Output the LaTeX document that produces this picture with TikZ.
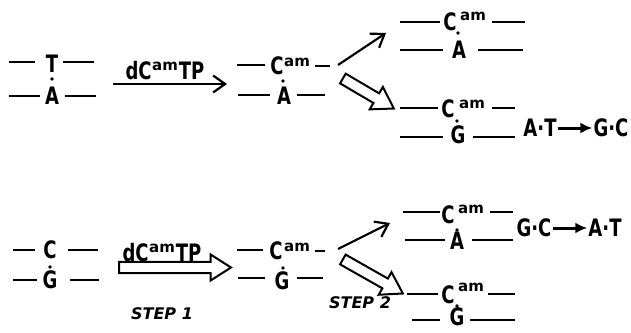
\documentclass[tikz,border=0pt]{standalone}
\usepackage{fontspec}
\setmainfont{DejaVu Sans}
\newfontfamily\basefont{DejaVu Sans}[FakeStretch=0.75]
\usetikzlibrary{arrows.meta,shapes.arrows,calc}
\begin{document}
\begin{tikzpicture}[x=1pt,y=-1pt,
  base/.style={font=\basefont\bfseries\fontsize{24}{24}\selectfont, inner sep=0pt, text height=17.5pt, text depth=0pt},
  supr/.style={font=\bfseries\fontsize{15}{15}\selectfont, inner sep=0pt, text height=8.4pt, text depth=0pt},
  steplab/.style={font=\bfseries\itshape\fontsize{16}{16}\selectfont, inner sep=0pt},
  strand/.style={line width=2.2pt},
  hb/.style={circle, fill, inner sep=0pt, minimum size=3.8pt},
  thinarrow/.style={line width=2.2pt, -{Straight Barb[length=12pt,width=17pt]}},
  fatarrow/.style={line width=3pt, -{Latex[length=12pt,width=11pt]}, shorten <=1pt, shorten >=1pt},
  harrow/.style={single arrow, draw, line width=2pt, inner xsep=0pt, inner ysep=4.6pt,
    single arrow head extend=7.4pt, single arrow tip angle=65, fill=white},
  hollow/.style={to path={let \p1=(\tikztostart), \p2=(\tikztotarget),
    \n1={veclen(\x2-\x1,\y2-\y1)} in
    (\tikztostart) -- (\tikztotarget) node[pos=0, sloped, harrow, anchor=tail, minimum height=\n1]{}}}
]
\useasboundingbox (0,0) rectangle (631,332);
\newcommand{\amsup}{\kern0.5pt\raisebox{9pt}{\normalfont\bfseries\fontsize{15}{15}\selectfont am}\kern1pt}

% ---------- Pair A (T.A) ----------
\node[base] (T1) at (52,64) {T};
\node[hb] (d1) at (52,79) {};
\node[base] (A1) at (52,96) {A};
\draw[strand] (T1.center) ++(-43,-2) -- ++(26,0);
\draw[strand] (T1.center) ++(11,-2) -- ++(31,0);
\draw[strand] (A1.center) ++(-43,0) -- ++(31,0);
\draw[strand] (A1.center) ++(13,0) -- ++(31,0);

% arrow 1
\coordinate (a1s) at (113,84);
\coordinate (a1e) at (227,84);
\draw[thinarrow] (a1s) -- (a1e);
\node[base] (lab1) at (165,71) {dC\amsup TP};

% ---------- Pair B (Cam.A) ----------
\node[base] (C2) at (277,66) {C};
\node[supr] (s2) at (297,62) {am};
\node[hb] (d2) at (283,81) {};
\node[base] (A2) at (284,96) {A};
\draw[strand] (C2.center) ++(-40,-1) -- ++(28,0);
\draw[strand] (C2.center) ++(38,0) -- ++(15,0);
\draw[strand] (A2.center) ++(-46,-1) -- ++(32,0);
\draw[strand] (A2.center) ++(13,-1) -- ++(28,0);

\coordinate (b1s) at (338,65);
\coordinate (b1e) at (386,33);
\draw[thinarrow] (b1s) -- (b1e);
\coordinate (b2s) at (342,78);
\coordinate (b2e) at (393,108);
\path (b2s) to[hollow] (b2e);

% ---------- Pair C (Cam.A) ----------
\node[base] (C3) at (450,22) {C};
\node[supr] (s3) at (473,16) {am};
\node[hb] (d3) at (458,33) {};
\node[base] (A3) at (459,50) {A};
\draw[strand] (C3.center) ++(-50,0) -- ++(40,0);
\draw[strand] (C3.center) ++(42,0) -- ++(33,0);
\draw[strand] (A3.center) ++(-59,0) -- ++(43,0);
\draw[strand] (A3.center) ++(19,0) -- ++(45,0);

% ---------- Pair D (Cam.G) ----------
\node[base] (C4) at (448,109) {C};
\node[supr] (s4) at (472,104) {am};
\node[hb] (d4) at (457,121) {};
\node[base] (G4) at (458,135) {G};
\draw[strand] (C4.center) ++(-48,-1) -- ++(38,0);
\draw[strand] (C4.center) ++(44,-1) -- ++(23,0);
\draw[strand] (G4.center) ++(-58,2) -- ++(43,0);
\draw[strand] (G4.center) ++(15,2) -- ++(42,0);

\node[base] (at1) at (540,128) {A·T};
\node[base] (gc1) at (611,128) {G·C};
\draw[fatarrow] (at1) -- (gc1);

% ---------- Pair E (C.G) ----------
\node[base] (C5) at (50,250) {C};
\node[hb] (d5) at (50,267) {};
\node[base] (G5) at (50,280) {G};
\draw[strand] (C5.center) ++(-37,0) -- ++(22,0);
\draw[strand] (C5.center) ++(18,0) -- ++(30,0);
\draw[strand] (G5.center) ++(-37,0) -- ++(24,0);
\draw[strand] (G5.center) ++(20,0) -- ++(29,0);

% arrow 2 (open)
\coordinate (a2s) at (118,267.5);
\coordinate (a2e) at (230,267.5);
\path (a2s) to[hollow] (a2e);
\node[base] (lab2) at (162,253) {dC\amsup TP};

% ---------- Pair F (Cam.G) ----------
\node[base] (C6) at (276,251) {C};
\node[supr] (s6) at (297,247) {am};
\node[hb] (d6) at (283,268) {};
\node[base] (G6) at (282,281) {G};
\draw[strand] (C6.center) ++(-39,-1) -- ++(26,0);
\draw[strand] (C6.center) ++(39,0) -- ++(10,0);
\draw[strand] (G6.center) ++(-44,-3) -- ++(27,0);
\draw[strand] (G6.center) ++(15,-3) -- ++(26,0);

\coordinate (f1s) at (338,249);
\coordinate (f1e) at (390,223);
\draw[thinarrow] (f1s) -- (f1e);
\coordinate (f2s) at (342,259);
\coordinate (f2e) at (402,293);
\path (f2s) to[hollow] (f2e);

% ---------- Pair G (Cam.A) ----------
\node[base] (C7) at (448,215) {C};
\node[supr] (s7) at (471,209) {am};
\node[hb] (d7) at (457,230) {};
\node[base] (A7) at (457,241) {A};
\draw[strand] (C7.center) ++(-45,-3) -- ++(37,0);
\draw[strand] (C7.center) ++(42,-3) -- ++(23,0);
\draw[strand] (A7.center) ++(-52,-1) -- ++(40,0);
\draw[strand] (A7.center) ++(15,-1) -- ++(41,0);

\node[base] (gc2) at (534,228) {G·C};
\node[base] (at2) at (605,228) {A·T};
\draw[fatarrow] (gc2) -- (at2);

% ---------- Pair H (Cam.G) ----------
\node[base] (C8) at (448,295) {C};
\node[supr] (s8) at (471,287) {am};
\node[hb] (d8) at (457,306) {};
\node[base] (G8) at (457,317) {G};
\draw[strand] (C8.center) ++(-41,-1) -- ++(31,0);
\draw[strand] (C8.center) ++(40,-1) -- ++(27,0);
\draw[strand] (G8.center) ++(-45,3) -- ++(28,0);
\draw[strand] (G8.center) ++(13,3) -- ++(45,0);

% step labels
\node[steplab] (step1) at (162,314) {STEP 1};
\node[steplab] (step2) at (360,303) {STEP 2};
\end{tikzpicture}
\end{document}
